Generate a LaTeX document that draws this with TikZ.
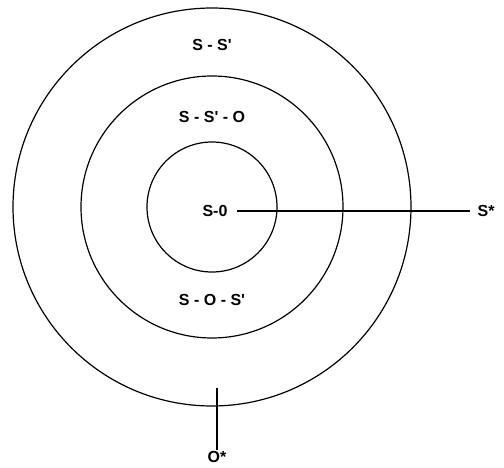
\documentclass[tikz,border=0pt]{standalone}
\usepackage{fontspec}
\setmainfont{Liberation Sans}
\begin{document}
\begin{tikzpicture}[x=1pt, y=-1pt, line width=1.2pt]
\tikzset{lbl/.style={font=\fontsize{16}{18}\selectfont\bfseries, inner sep=1pt}}
\def\xC{212}
\def\yC{207}
\def\rA{199}
\def\rB{131}
\def\rC{65}
\def\q{\textquotesingle}
\useasboundingbox (0,0) rectangle (504,468);

% Circles
\draw (\xC,\yC) circle (\rA);
\draw (\xC,\yC) circle (\rB);
\draw (\xC,\yC) circle (\rC);

% Labels
\node[lbl] (ss) at (\xC,45) {S - S\q};
\node[lbl] (sso) at (\xC,117) {S - S\q{} - O};
\node[lbl] (s0) at (215,211) {S-0};
\node[lbl] (sos) at (\xC,300) {S - O - S\q};
\node[lbl, anchor=west] (sstar) at (476,211) {S*};
\node[lbl] (ostar) at (217,457) {O*};

% Axes
\draw (s0.east) ++(8,0) coordinate (a0) -- ([xshift=-6pt]sstar.west);
\coordinate (b0) at (217,388);
\draw (b0) -- (ostar.north);

\end{tikzpicture}
\end{document}
